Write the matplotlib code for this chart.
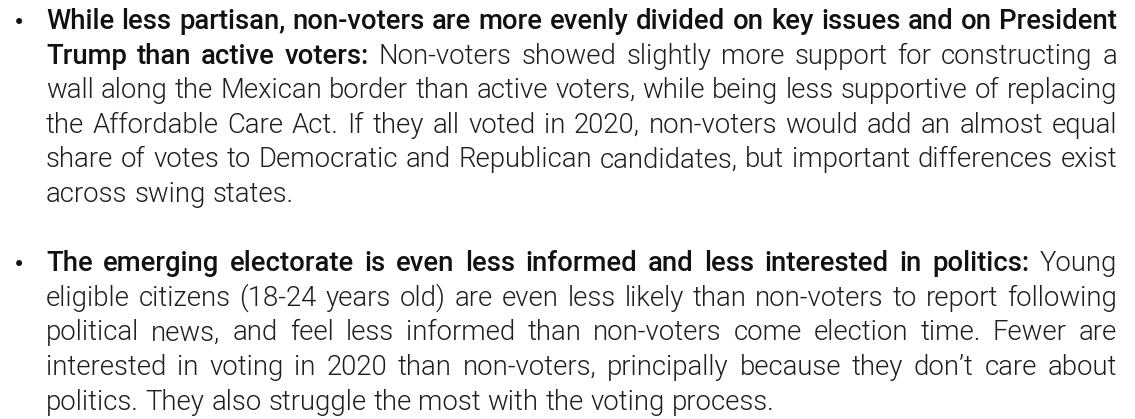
import matplotlib
matplotlib.use("Agg")
import matplotlib.pyplot as plt
from matplotlib import font_manager

# ---- content (text lines as laid out in the reference) ----
para1_lines = [
    [("While less partisan, non-voters are more evenly divided on key issues and on President", "b")],
    [("Trump than active voters:", "b"), ("Non-voters showed slightly more support for constructing a", "r")],
    [("wall along the Mexican border than active voters, while being less supportive of replacing", "r")],
    [("the Affordable Care Act. If they all voted in 2020, non-voters would add an almost equal", "r")],
    [("share of votes to Democratic and Republican candidates, but important differences exist", "r")],
    [("across swing states.", "r")],
]
para2_lines = [
    [("The emerging electorate is even less informed and less interested in politics:", "b"), ("Young", "r")],
    [("eligible citizens (18-24 years old) are even less likely than non-voters to report following", "r")],
    [("political news, and feel less informed than non-voters come election time. Fewer are", "r")],
    [("interested in voting in 2020 than non-voters, principally because they don\u2019t care about", "r")],
    [("politics. They also struggle the most with the voting process.", "r")],
]
paragraphs = [para1_lines, para2_lines]
bullet_char = "\u2022"

# ---- layout ----
W, H = 1135, 419
X_TEXT, X_RIGHT, X_BULLET = 46, 1117, 13
Y0, LINE = 29, 34.6
FS0 = 16.2


def _w(f):
    w = f.weight
    if isinstance(w, str):
        w = font_manager.weight_dict.get(w, 400)
    return w


ws = {_w(f) for f in font_manager.fontManager.ttflist if f.name == "Roboto"}
FAMILY = "Roboto" if ws else "DejaVu Sans"
REG_W = 300 if 300 in ws else 400
BOLD_W = 500 if 500 in ws else (600 if 600 in ws else 700)


def make_styles(fs):
    return {
        "r": dict(family=[FAMILY, "DejaVu Sans"], weight=REG_W, color="#1e1e1e", fontsize=fs),
        "b": dict(family=[FAMILY, "DejaVu Sans"], weight=BOLD_W, color="#111111", fontsize=fs),
    }


fig = plt.figure(figsize=(W / 100, H / 100), dpi=100)
ax = fig.add_axes([0, 0, 1, 1])
ax.set_xlim(0, W)
ax.set_ylim(H, 0)
ax.axis("off")
renderer = fig.canvas.get_renderer()


def width(t):
    return t.get_window_extent(renderer).width


def measure(text, style):
    t = ax.text(0, -100, text, **style)
    w = width(t)
    t.remove()
    return w


def natural_width(segments, styles):
    total = 0
    parts = []
    for text, st in segments:
        parts.append(measure(text, styles[st]))
    sp = measure("a a", styles["r"]) - measure("aa", styles["r"])
    return sum(parts) + sp * (len(parts) - 1)


# fit font size so the tightest justified line has natural word spacing
styles0 = make_styles(FS0)
ratios = []
for lines in paragraphs:
    for segs in lines[:-1]:
        ratios.append((X_RIGHT - X_TEXT) / natural_width(segs, styles0))
FS = FS0 * min(ratios) * 0.995
styles = make_styles(FS)


def space_width(style):
    return measure("a a", styles[style]) - measure("aa", styles[style])


SPACE = {k: space_width(k) for k in styles}


def place_line(segments, y, justify):
    words = []
    for text, st in segments:
        for wd in text.split(" "):
            words.append((wd, st))
    arts = [ax.text(0, y, wd, va="baseline", ha="left", **styles[st]) for wd, st in words]
    widths = [width(a) for a in arts]
    if justify and len(arts) > 1:
        gap = (X_RIGHT - X_TEXT - sum(widths)) / (len(arts) - 1)
        gaps = [gap] * (len(arts) - 1)
    else:
        gaps = [SPACE[words[i + 1][1]] for i in range(len(arts) - 1)]
    x = X_TEXT
    for i, a in enumerate(arts):
        a.set_x(x)
        x += widths[i] + (gaps[i] if i < len(gaps) else 0)


row = 0
for p_i, lines in enumerate(paragraphs):
    y_first = Y0 + row * LINE
    ax.text(X_BULLET, y_first, bullet_char, va="baseline", ha="left",
            family=["DejaVu Sans"], fontsize=FS * 0.75, color="#111111")
    for l_i, segs in enumerate(lines):
        y = Y0 + row * LINE
        place_line(segs, y, justify=(l_i < len(lines) - 1))
        row += 1
    row += 1  # blank line between paragraphs

fig.savefig("out.png", dpi=100, facecolor="white")
